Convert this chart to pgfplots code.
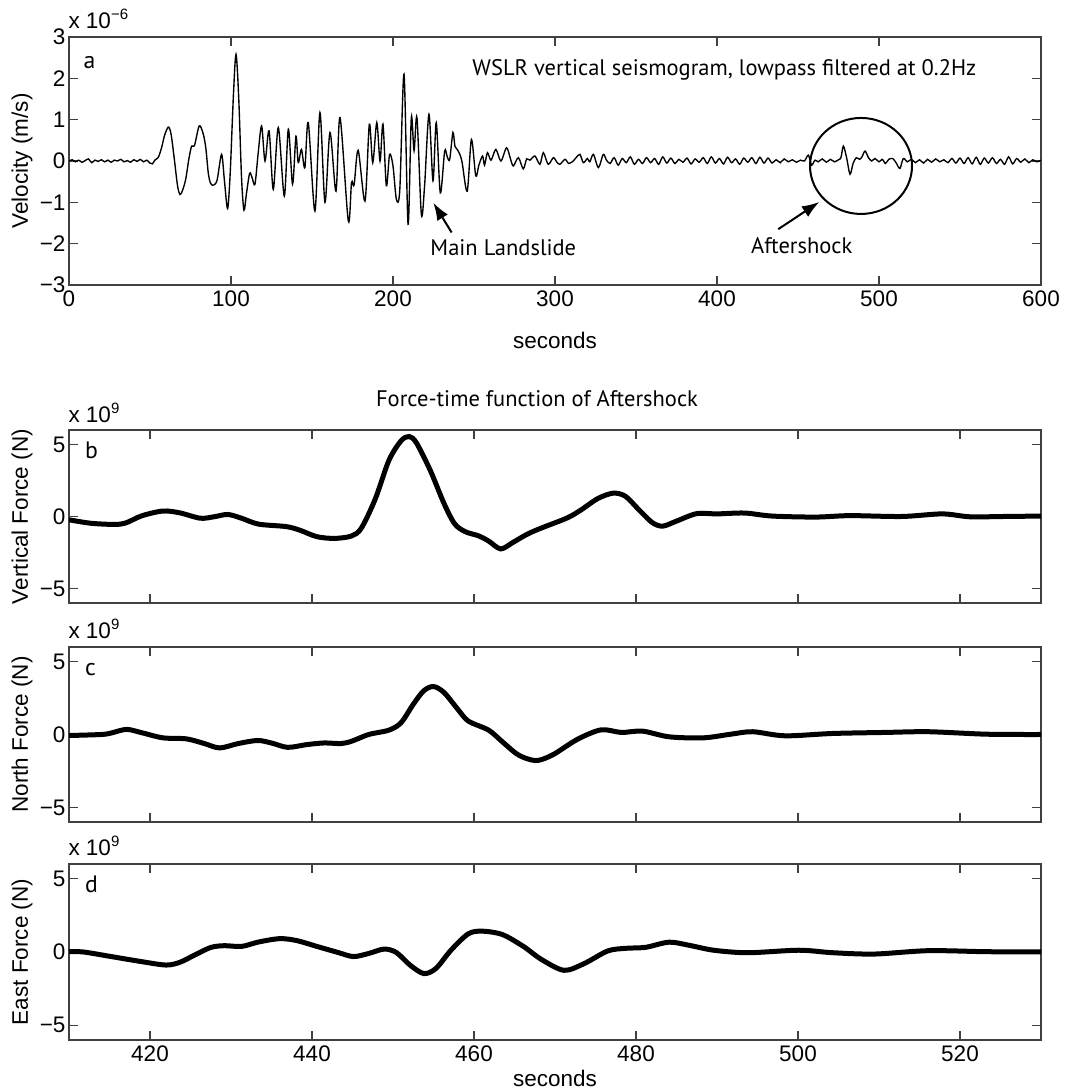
\documentclass[border=0pt]{standalone}
\usepackage{fontspec}
\setmainfont{Liberation Sans}
\newfontfamily\myr{PT Sans}
\usepackage{pgfplots}
\pgfplotsset{compat=1.18}
\usetikzlibrary{arrows.meta}
\begin{document}
\fontsize{9pt}{11pt}\selectfont
\begin{tikzpicture}
\useasboundingbox (0,0) rectangle (426.4pt,436.4pt);
\pgfplotsset{
  every axis/.append style={
    scale only axis, width=388.8pt, anchor=south west,
    /pgf/number format/assume math mode=true,
    axis line style={draw=black!75, line width=0.45pt},
    every tick/.style={draw=black!75, line width=0.45pt},
    tick align=inside,
    major tick length=3.6pt,
    font=\fontsize{9pt}{11pt}\selectfont,
    ticklabel style={font=\fontsize{9pt}{11pt}\selectfont},
    yticklabel style={inner sep=1.2pt},
    xticklabel style={inner sep=2pt},
    ylabel style={at={(axis description cs:-0.0484,0.5)},anchor=center},
  },
}
% ---------------- panel a
\begin{axis}[name=pa, at={(27.6pt,322.4pt)}, height=99.2pt,
  xmin=0,xmax=600, ymin=-3,ymax=3,
  xtick={0,100,...,600}, xticklabels={0,100,200,300,400,500,600},
  ytick={-3,-2,...,3},
  yticklabels={−3,−2,−1,0,1,2,3},
  xlabel={seconds}, ylabel={Velocity (m/s)},
  xlabel style={at={(axis description cs:0.5,-0.222)},anchor=center},
]
\addplot[black, line width=0.55pt, smooth] coordinates {
(0,0.0)(2,0.03)(4,-0.02)(6,0.02)(8,-0.03)(10,0.01)(12,0.05)(14,-0.04)(16,0.02)(18,-0.01)(20,0.03)(22,-0.02)(24,0.02)(26,-0.03)(28,0.02)(30,0.0)(32,0.04)(34,-0.02)(36,0.01)(38,-0.03)(40,0.03)(42,-0.01)(44,0.04)(46,-0.02)(48,0.02)(50,-0.05)(51.5,-0.07)
(53,0.02)(55,0.08)(57,0.30)(59,0.62)(61.3,0.82)(63,0.65)(65,0.05)(67,-0.60)(68.5,-0.81)(70,-0.72)(72,-0.45)(74,0.05)(75.7,0.36)(77.5,0.38)(80.4,0.85)(82.9,0.65)(84.5,0.30)(86,-0.30)(87.5,-0.55)(89.5,-0.58)(91.5,-0.45)(94.2,0.16)(96,-0.50)(97.9,-1.15)(99.5,-0.30)(101.5,1.60)(103.1,2.58)(104.8,1.50)(106.5,-0.40)(108,-1.19)(109.5,-0.80)(111.5,-0.30)(113,-0.40)(114.8,-0.56)(116.8,0.20)(118.9,0.85)(121,0.0)(123.5,0.73)(126.1,-0.69)(129.2,0.81)(132.9,-0.85)(135.4,0.77)(138,-0.56)(140.1,0.60)(141.5,-0.04)(143.5,0.28)(145.6,-0.16)(147.7,0.93)(151.8,-1.21)(154.9,1.17)(158,-1.0)(161.1,0.69)(164.8,-0.73)(167.3,1.05)(172.4,-1.45)(174.4,-0.52)(176,-0.58)(178.5,0.26)(182.7,-0.97)(185.4,0.89)(187.5,-0.04)(190,0.93)(192,0.0)(193.8,0.89)(195.9,-0.6)(197.9,0.16)(200,-0.12)(202.1,-0.93)(204.2,-0.69)(206.8,2.10)(209.3,-1.53)(211.3,1.05)(213,0.25)(214.8,1.05)(217.5,-1.29)(219.5,-0.6)(222.2,1.13)(224.7,-0.48)(226.7,0.93)(229.2,-0.77)(231.9,0.24)(233.5,0.1)(235,0.04)(237,0.69)(238.3,0.35)(240.3,0.24)(242.5,0.0)(245.8,-0.73)(248.4,0.52)(251.1,-0.36)(253,-0.1)(255.3,0.12)(256.5,-0.1)(258.3,0.2)(260.5,0.02)(263.5,0.28)(266.6,0.0)(270.1,0.32)(272.6,0.04)(274.3,-0.12)(277.4,0.08)(280.4,-0.19)(282.5,0.05)(284.5,0.02)(287.6,0.12)(290.7,-0.08)(292.8,0.2)(295.8,-0.08)(299,0.08)(301,-0.02)(303,-0.08)(306.2,0.04)(308.5,-0.06)(311.3,0.0)(313,0.08)(315.4,0.16)(317.5,-0.04)(320,0.06)(321.5,-0.02)(323.7,0.16)(326.8,-0.16)(329.8,0.16)
(331.8,0.02)(334,-0.06)(336.5,0.08)(339,-0.1)(341.5,0.06)(344,-0.04)(346.5,0.1)(349,-0.08)(351.5,0.04)(354,-0.06)(356.5,0.08)(359,-0.04)(361.5,0.06)(364,-0.08)(366.5,0.1)(369,-0.05)(371.5,0.07)(374,-0.06)(376.5,0.04)(379,-0.03)(381.5,0.07)(384,-0.07)(386.5,0.05)(389,-0.03)(391.5,0.08)(394,-0.06)(396.5,0.1)(399,-0.05)(401.5,0.06)(404,-0.07)(406.5,0.09)(409,-0.04)(411.5,0.05)(414,-0.08)(416.5,0.07)(419,-0.03)(421.5,0.08)(424,-0.06)(426.5,0.09)(429,-0.05)(431.5,0.07)(434,-0.05)(436.5,0.03)(439,-0.04)(441.5,0.05)(444,-0.02)(446.5,0.03)(449,-0.03)(451.5,0.02)(454,0.0)(456.4,0.14)(458.4,-0.1)(460.5,0.02)(462.5,-0.02)(465,0.05)(467.5,-0.03)(470,0.04)(472.5,-0.02)(475,0.03)(476.5,0.08)(478,0.36)(480,0.08)(482.1,-0.32)(484,-0.06)(486,0.08)(488,0.04)(489.5,0.1)(491.4,0.24)(493.5,0.08)(495.5,0.0)(497.5,0.06)(500,-0.02)(502,0.04)(504,-0.06)(506,0.04)(508.5,0.06)(510.5,-0.04)(512.9,-0.18)(515,0.06)(517.5,-0.02)(520,0.04)(522.5,-0.04)(525,0.03)(527.5,-0.05)(530,0.04)(532.5,-0.03)(535,0.05)(537.5,-0.02)(540,0.03)(542.5,-0.04)(545,0.06)(547.5,-0.05)(550,0.07)(552.5,-0.06)(555,0.08)(557.5,-0.07)(560,0.09)(562.5,-0.08)(565,0.07)(567.5,-0.05)(570,0.08)(572.5,-0.06)(575,0.04)(577.5,-0.08)(580,0.1)(582.5,-0.07)(585,0.06)(587.5,-0.03)(590,0.05)(592.5,-0.04)(595,0.03)(597.5,-0.02)(600,0.02)
};
\node[anchor=base west, inner sep=0pt, font=\myr\fontsize{9.5pt}{11pt}\selectfont] at (rel axis cs:0.0144,0.871) {a};
\node[anchor=west, inner sep=0pt, font=\myr\fontsize{9pt}{11pt}\selectfont] at (rel axis cs:0.4146,0.867) {WSLR vertical seismogram, lowpass filtered at 0.2Hz};
\draw[-{Latex[length=7pt,width=5pt]}, line width=0.8pt] (axis cs:236.2,-1.73) -- (axis cs:224.9,-1.01);
\node[font=\myr\fontsize{9pt}{11pt}\selectfont] at (axis cs:268.1,-2.10) {Main Landslide};
\draw[-{Latex[length=7pt,width=5pt]}, line width=0.8pt] (axis cs:437.8,-1.65) -- (axis cs:463.2,-0.99);
\node[font=\myr\fontsize{9pt}{11pt}\selectfont] at (axis cs:452.3,-2.04) {Aftershock};
\draw[line width=0.8pt] (axis cs:488.9,-0.12) ellipse [x radius=20.4pt, y radius=19.2pt];
\end{axis}
\node[anchor=base west, inner sep=0pt] at (27.2pt,424.8pt) {x 10\textsuperscript{−6}};
% ---------------- panel b
\begin{axis}[name=pb, at={(27.6pt,195.2pt)}, height=69.2pt,
  xmin=410,xmax=530, ymin=-6,ymax=6,
  xtick={420,440,...,520}, xticklabels={},
  ytick={-5,0,5}, yticklabels={−5,0,5},
  ylabel={Vertical Force (N)},
]
\addplot[black, line width=2pt, smooth] coordinates {
(410,-0.23)(412.7,-0.47)(415.6,-0.55)(417,-0.45)(419,0.05)(421.6,0.38)(423.7,0.25)(426.2,-0.12)(427.9,-0.02)(429.6,0.14)(431.3,-0.12)(433.4,-0.53)(436.8,-0.7)(438.5,-0.95)(440.6,-1.4)(442.8,-1.52)(444.9,-1.35)(446.1,-0.8)(447.8,1.2)(449.5,3.9)(451,5.25)(452,5.55)(452.9,5.1)(454.6,3.2)(456.3,0.9)(457.6,-0.5)(458.9,-1.05)(460.6,-1.35)(461.8,-1.7)(463.3,-2.25)(464.8,-1.8)(466.5,-1.25)(468.1,-0.85)(471.5,-0.1)(473.2,0.45)(475.3,1.25)(477.2,1.62)(478.7,1.4)(480.3,0.5)(482,-0.42)(483.3,-0.67)(485,-0.32)(487.5,0.2)(490,0.18)(493.4,0.24)(496.8,0.03)(502.2,-0.04)(506.4,0.06)(512.8,0.0)(517.8,0.18)(521.2,-0.02)(525.4,0.0)(530,0.03)
};
\node[anchor=base west, inner sep=0pt, font=\myr\fontsize{9.5pt}{11pt}\selectfont] at (rel axis cs:0.016,0.837) {b};
\end{axis}
\node[anchor=base west, inner sep=0pt] at (27.2pt,267.2pt) {x 10\textsuperscript{9}};
\node[font=\myr\fontsize{9pt}{11pt}\selectfont] at (214.8pt,276.8pt) {Force-time function of Aftershock};
% ---------------- panel c
\begin{axis}[name=pc, at={(27.6pt,107.6pt)}, height=70pt,
  xmin=410,xmax=530, ymin=-6,ymax=6,
  xtick={420,440,...,520}, xticklabels={},
  ytick={-5,0,5}, yticklabels={−5,0,5},
  ylabel={North Force (N)},
]
\addplot[black, line width=2pt, smooth] coordinates {
(410,-0.07)(414,0.0)(415.2,0.1)(417.1,0.35)(419,0.12)(421.6,-0.23)(424.5,-0.3)(426.7,-0.62)(428.6,-0.92)(430.9,-0.62)(433.3,-0.41)(435.1,-0.6)(437,-0.88)(439.4,-0.69)(441.5,-0.58)(443.6,-0.62)(444.9,-0.46)(447,0.0)(449.5,0.3)(451,0.81)(452.5,2.07)(453.8,3.0)(455,3.29)(456.3,2.88)(458,1.73)(459.3,0.92)(461.8,0.3)(463.5,-0.5)(465.2,-1.3)(466.5,-1.65)(467.9,-1.78)(469.8,-1.37)(472.8,-0.32)(475.7,0.32)(478.2,0.14)(480.8,0.23)(484.1,-0.16)(488.3,-0.23)(491.7,0.02)(494.4,0.19)(498.4,-0.09)(504.3,0.07)(510.7,0.14)(516.1,0.19)(523.3,0.02)(530,0.0)
};
\node[anchor=base west, inner sep=0pt, font=\myr\fontsize{9.5pt}{11pt}\selectfont] at (rel axis cs:0.016,0.837) {c};
\end{axis}
\node[anchor=base west, inner sep=0pt] at (27.2pt,180.8pt) {x 10\textsuperscript{9}};
% ---------------- panel d
\begin{axis}[name=pd, at={(27.6pt,20.4pt)}, height=70.4pt,
  xmin=410,xmax=530, ymin=-6,ymax=6,
  xtick={420,440,...,520}, xticklabels={420,440,460,480,500,520},
  ytick={-5,0,5}, yticklabels={−5,0,5},
  ylabel={East Force (N)}, xlabel={seconds},
  xlabel style={at={(axis description cs:0.5,-0.216)},anchor=center},
]
\addplot[black, line width=2pt, smooth] coordinates {
(410,0.03)(411.8,0.0)(415.2,-0.31)(419,-0.66)(422,-0.89)(423.7,-0.7)(425.4,-0.24)(427.5,0.31)(429.2,0.43)(431.3,0.38)(433.4,0.68)(436,0.91)(438.1,0.78)(440.6,0.38)(443.2,-0.03)(445.1,-0.31)(447,-0.1)(448.9,0.2)(450.4,-0.03)(452.1,-0.89)(453.8,-1.47)(455.3,-1.12)(457.2,0.15)(459.3,1.24)(461,1.42)(463.5,1.19)(466.1,0.38)(468.3,-0.5)(471.1,-1.25)(473.6,-0.79)(476.5,0.07)(478.7,0.25)(481.2,0.32)(484.1,0.67)(486.7,0.44)(489.6,0.12)(493.8,-0.05)(500.1,0.12)(504.3,-0.05)(509.4,-0.14)(516.1,0.09)(523.3,0.02)(530,0.0)
};
\node[anchor=base west, inner sep=0pt, font=\myr\fontsize{9.5pt}{11pt}\selectfont] at (rel axis cs:0.016,0.837) {d};
\end{axis}
\node[anchor=base west, inner sep=0pt] at (27.2pt,94pt) {x 10\textsuperscript{9}};
\end{tikzpicture}
\end{document}
